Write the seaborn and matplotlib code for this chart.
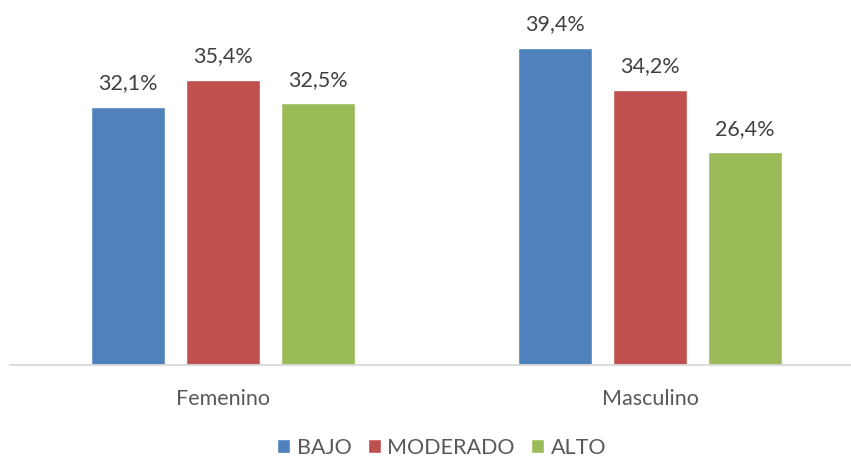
import matplotlib
matplotlib.use("Agg")
import matplotlib.pyplot as plt
import seaborn as sns
import pandas as pd

categories = ["Femenino", "Masculino"]
levels = ["BAJO", "MODERADO", "ALTO"]
bajo = [32.1, 39.4]
moderado = [35.4, 34.2]
alto = [32.5, 26.4]
colors = ["#4F81BD", "#C0504D", "#9BBB59"]

rows = []
for lvl, vals in zip(levels, [bajo, moderado, alto]):
    for cat, v in zip(categories, vals):
        rows.append({"sexo": cat, "nivel": lvl, "valor": v})
df = pd.DataFrame(rows)

sns.set_theme(style="white")
plt.rcParams["font.family"] = ["Lato", "DejaVu Sans"]

W, H = 851, 457
fig = plt.figure(figsize=(W / 100, H / 100), dpi=100)
ax_left = 9.5 / W
ax_bottom = 1 - 365 / H
ax = fig.add_axes([ax_left, ax_bottom, 1 - ax_left, 365 / H])

sns.barplot(data=df, x="sexo", y="valor", hue="nivel", order=categories,
            hue_order=levels, palette=colors, width=0.6675, gap=0.221,
            saturation=1, ax=ax, legend=True)

ax.set_xlim(-0.5, (W - 223) / 427)
ax.set_ylim(0, 365 / 8.05)

for container in ax.containers:
    for bar in container:
        h = bar.get_height()
        ax.annotate(f"{h:.1f}%".replace(".", ","),
                    (bar.get_x() + bar.get_width() / 2, h),
                    xytext=(0, 17), textcoords="offset points",
                    ha="center", va="center", fontsize=15.5, color="#404040")

for s in ["top", "right", "left"]:
    ax.spines[s].set_visible(False)
ax.spines["bottom"].set_color("#D9D9D9")
ax.spines["bottom"].set_linewidth(1.3)
ax.set_yticks([])
ax.set_xlabel("")
ax.set_ylabel("")
ax.tick_params(axis="x", length=0, pad=17, labelsize=15.5, colors="#595959")

handles, labels = ax.get_legend_handles_labels()
ax.get_legend().remove()
leg = fig.legend(handles, labels, loc="center", bbox_to_anchor=(0.519, 1 - 448 / H),
                 ncol=3, frameon=False, fontsize=15.5, handlelength=0.62,
                 handleheight=0.62, handletextpad=0.3, columnspacing=0.75,
                 labelcolor="#595959")

fig.savefig("out.png", dpi=100)
